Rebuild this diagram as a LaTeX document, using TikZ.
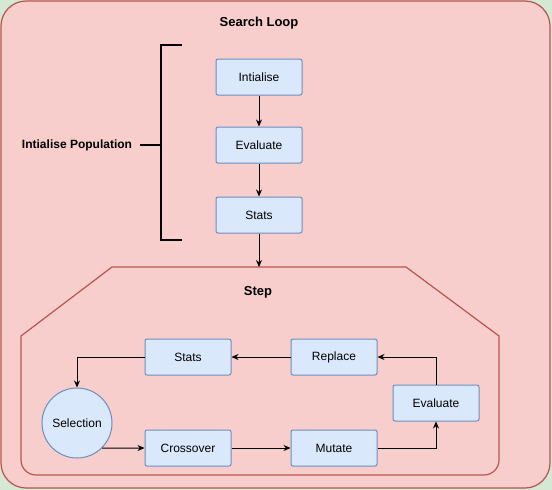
\documentclass[tikz,border=0pt]{standalone}
\usepackage{fontspec}
\setmainfont{Liberation Sans}
\usepackage{tikz}
\usetikzlibrary{arrows.meta}

\definecolor{bggreen}{HTML}{D5E8D4}
\definecolor{redfill}{HTML}{F8CECC}
\definecolor{redline}{HTML}{B85450}
\definecolor{bluefill}{HTML}{DAE8FC}
\definecolor{blueline}{HTML}{6C8EBF}

\tikzset{
  box/.style={draw=blueline, fill=bluefill, line width=1pt, rounded corners=2pt,
    minimum width=86pt, minimum height=36pt, inner sep=0pt, font=\fontsize{12}{14}\selectfont},
  selbox/.style={circle, draw=blueline, fill=bluefill, line width=1pt,
    minimum size=70pt, inner sep=0pt, font=\fontsize{12}{14}\selectfont},
  title/.style={font=\fontsize{13}{15}\selectfont\bfseries},
  arw/.style={line width=1pt, -{Stealth[length=7pt,width=6pt]}},
  brk/.style={line width=1.6pt}
}

\begin{document}
\begin{tikzpicture}[x=1pt,y=-1pt]
\useasboundingbox (0,0) rectangle (552,490);
\fill[bggreen] (0,0) rectangle (552,490);

%-------------------------------------
\draw[redline, fill=redfill, line width=1.2pt, rounded corners=25pt] (1,1) rectangle (550,488);
\node[title] (loop) at (259,23) {Search Loop};

\node[box] (init) at (259,77) {Intialise};
\node[box] (eval) at (259,145) {Evaluate};
\node[box] (stats) at (259,215) {Stats};

\node[font=\fontsize{12}{14}\selectfont\bfseries] (pop) at (77,145) {Intialise Population};
\coordinate (brtop) at (182,45);
\coordinate (brbot) at (182,240);
\coordinate (brmid) at (161,145);
\coordinate (poparm) at (140,145);
\draw[brk] (brtop) -- (161,45) -- (161,240) -- (brbot);
\draw[brk] (poparm) -- (brmid);

\draw[arw] (init) -- (eval);
\draw[arw] (eval) -- (stats);

%-------------------------------------
\draw[redline, fill=redfill, line width=1.2pt]
  (260,475) [rounded corners=15pt] -- (21,475) [sharp corners] -- (21,336) -- (112,267)
  -- (406,267) -- (499,336) [rounded corners=15pt] -- (499,475) -- cycle;
\coordinate (steptop) at (259,267);
\node[title] (step) at (258,292) {Step};

\draw[arw] (stats) -- (steptop);

\node[box] (sstats) at (188,357) {Stats};
\node[box] (replace) at (334,357) {Replace};
\node[box] (seval) at (436,403) {Evaluate};
\node[box] (cross) at (188,448) {Crossover};
\node[box] (mutate) at (334,448) {Mutate};
\node[selbox] (sel) at (77,423) {Selection};

\draw[arw] (sstats.west) -| (sel.north);
\draw[arw] (replace) -- (sstats);
\draw[arw] (seval.north) |- (replace.east);
\draw[arw] (sel.-45.6) -- (cross.west);
\draw[arw] (cross) -- (mutate);
\draw[arw] (mutate.east) -| (seval.south);
\end{tikzpicture}
\end{document}
